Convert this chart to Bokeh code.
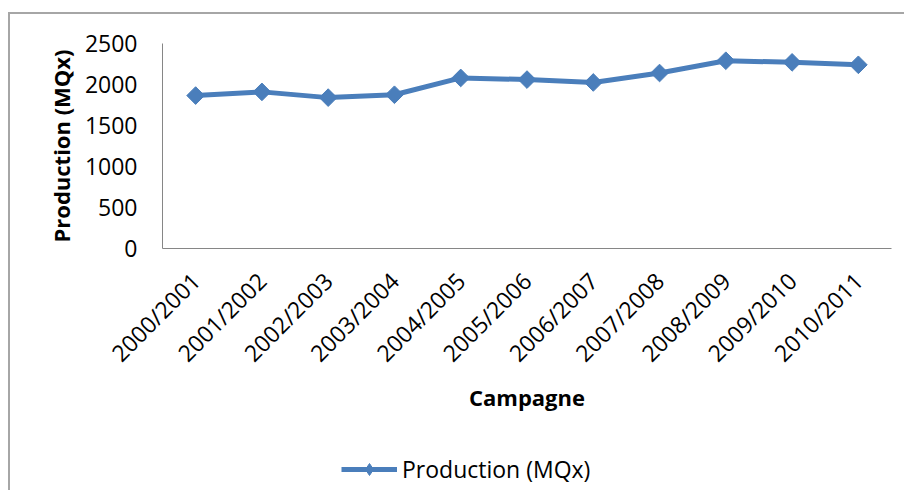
import math
from bokeh.plotting import figure
from bokeh.layouts import column
from bokeh.models import FactorRange, Range1d, Legend, LegendItem, FixedTicker
from bokeh.embed import file_html
from bokeh.resources import INLINE

campagnes = ["2000/2001", "2001/2002", "2002/2003", "2003/2004", "2004/2005",
             "2005/2006", "2006/2007", "2007/2008", "2008/2009", "2009/2010",
             "2010/2011"]
production = [1865, 1910, 1840, 1875, 2080, 2060, 2025, 2140, 2290, 2270, 2240]
y_ticks = [0, 500, 1000, 1500, 2000, 2500]
series_name = "Production (MQx)"

FONT = "Open Sans"
BLUE = "#4a7ebb"
GRAY = "#868686"

p = figure(x_range=FactorRange(*campagnes, range_padding=0),
           y_range=Range1d(0, 2500),
           frame_width=729, frame_height=205,
           min_border_left=152, min_border_right=13,
           min_border_top=29, min_border_bottom=192,
           output_backend="svg", toolbar_location=None)

p.outline_line_color = None
p.xgrid.grid_line_color = None
p.ygrid.grid_line_color = None

for ax in (p.xaxis[0], p.yaxis[0]):
    ax.axis_line_color = GRAY
    ax.axis_line_width = 1
    ax.major_tick_out = 0
    ax.major_tick_in = 0
    ax.minor_tick_out = 0
    ax.minor_tick_in = 0
    ax.major_label_text_font = FONT
    ax.major_label_text_font_size = "23px"
    ax.major_label_text_color = "#000000"
    ax.axis_label_text_font = FONT
    ax.axis_label_text_font_style = "bold"
    ax.axis_label_text_font_size = "22px"
    ax.axis_label_text_color = "#000000"

p.yaxis.ticker = FixedTicker(ticks=y_ticks)
p.yaxis.major_label_standoff = 25
p.yaxis.axis_label = "Production (MQx)"
p.yaxis.axis_label_standoff = 6

p.xaxis.major_label_orientation = math.pi / 4
p.xaxis.major_label_standoff = 28
p.xaxis.axis_label = "Campagne"
p.xaxis.axis_label_standoff = 0

line_style = dict(line_color=BLUE, line_width=5)

p.line(x=campagnes, y=production, **line_style)
p.scatter(x=campagnes, y=production, marker="square", angle=math.pi / 4,
          size=12.5, fill_color=BLUE, line_color=BLUE)

# legend strip below the chart (series drawn out of its visible range,
# only the legend entry shows)
lg = figure(x_range=FactorRange(*campagnes, range_padding=0),
            y_range=Range1d(0, 1),
            frame_width=894, frame_height=50,
            min_border_left=0, min_border_right=0,
            min_border_top=0, min_border_bottom=0,
            x_axis_location=None, y_axis_location=None,
            output_backend="svg", toolbar_location=None)
lg.outline_line_color = None
lg.xgrid.grid_line_color = None
lg.ygrid.grid_line_color = None
ln2 = lg.line(x=campagnes, y=production, **line_style)
mk2 = lg.scatter(x=campagnes, y=production, marker="diamond", size=18,
                 fill_color=BLUE, line_color=BLUE)

legend = Legend(items=[LegendItem(label=series_name, renderers=[ln2, mk2])],
                location=(331, 5), orientation="horizontal",
                padding=0, margin=0, border_line_color=None,
                background_fill_color=None,
                glyph_width=56, glyph_height=30, label_height=30,
                label_standoff=5,
                label_text_font=FONT, label_text_font_size="23px",
                label_text_color="#000000")
lg.add_layout(legend, "center")

layout = column(p, lg, spacing=0)
layout.styles = {"border-left": "2px solid #a6a6a6", "border-top": "2px solid #a6a6a6",
                 "margin-top": "12px", "margin-left": "8px"}

open("out.html", "w").write(file_html(layout, INLINE))
